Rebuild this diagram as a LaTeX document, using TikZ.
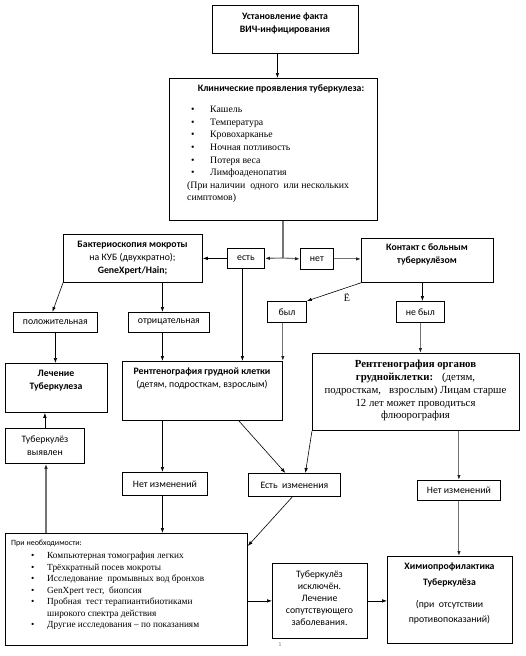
\documentclass[tikz,border=0pt]{standalone}
\usepackage{fontspec}
\setmainfont{Carlito}
\newfontfamily\tms{Liberation Serif}
\usetikzlibrary{arrows.meta,calc}
\begin{document}
\begin{tikzpicture}[x=1pt,y=-1pt,
  bx/.style={draw,line width=0.8pt,anchor=north west,inner sep=0pt},
  tx/.style={anchor=north,align=center,inner sep=0pt,font=\fontsize{9.8}{13}\selectfont},
  sm/.style={anchor=center,inner sep=0pt,font=\fontsize{9.8}{12}\selectfont},
  arr/.style={-{Latex[length=5pt,width=3.5pt]},line width=0.6pt},
  ln/.style={line width=0.6pt},
  garr/.style={-{Latex[length=5pt,width=3.5pt,color=black!85]},draw=black!55,line width=1.1pt},
  gln/.style={draw=black!55,line width=1.1pt},
]
\path[use as bounding box] (0,0) rectangle (525,656);

% boxes
\node[bx,minimum width=146pt,minimum height=48pt] (hiv) at (212,5) {};
\node[bx,minimum width=208pt,minimum height=142pt] (clin) at (169,78) {};
\node[bx,minimum width=139pt,minimum height=48pt] (bact) at (63,234) {};
\node[bx,minimum width=37pt,minimum height=20pt] (est) at (227,248) {};
\node[bx,minimum width=33pt,minimum height=21pt] (net) at (300,248) {};
\node[bx,minimum width=132pt,minimum height=44pt] (kont) at (361,238) {};
\node[bx,minimum width=84pt,minimum height=20pt] (pos) at (13,312) {};
\node[bx,minimum width=81pt,minimum height=20pt] (neg) at (128,312) {};
\node[bx,minimum width=39pt,minimum height=21pt] (byl) at (267,301) {};
\node[bx,minimum width=48pt,minimum height=21pt] (nebyl) at (396,301) {};
\node[bx,minimum width=102pt,minimum height=49pt] (lech) at (5,363) {};
\node[bx,minimum width=160pt,minimum height=59pt] (rgk) at (122,361) {};
\node[bx,minimum width=207pt,minimum height=77pt] (rorg) at (312,353) {};
\node[bx,minimum width=79pt,minimum height=35pt] (vyyav) at (5,428) {};
\node[bx,minimum width=85pt,minimum height=23pt] (netiz1) at (122,472) {};
\node[bx,minimum width=92pt,minimum height=23pt] (estiz) at (248,473) {};
\node[bx,minimum width=83pt,minimum height=20pt] (netiz2) at (417,480) {};
\node[bx,minimum width=242pt,minimum height=112pt] (pri) at (5,533) {};
\node[bx,minimum width=95pt,minimum height=75pt] (iskl) at (272,563) {};
\node[bx,minimum width=125pt,minimum height=87pt] (himio) at (387,556) {};

% texts
\node[tx] (hivt) at (285,13) {\textbf{Установление факта}\\\textbf{ВИЧ-инфицирования}};
\node[tx] (clint) at (281,85) {\textbf{Клинические проявления  туберкулеза:}};
\node[anchor=north west,align=left,inner sep=0pt,font=\tms\fontsize{9.8}{12.6}\selectfont] (clinl) at (187,106)
 {\hspace*{4pt}\makebox[19pt][l]{\textbullet}Кашель\\
  \hspace*{4pt}\makebox[19pt][l]{\textbullet}Температура\\
  \hspace*{4pt}\makebox[19pt][l]{\textbullet}Кровохарканье\\
  \hspace*{4pt}\makebox[19pt][l]{\textbullet}Ночная  потливость\\
  \hspace*{4pt}\makebox[19pt][l]{\textbullet}Потеря  веса\\
  \hspace*{4pt}\makebox[19pt][l]{\textbullet}Лимфоаденопатия\\
  (При наличии \ одного \ или нескольких\\
  симптомов)};
\node[tx] (bactt) at (132.5,241) {\textbf{Бактериоскопия  мокроты}\\на КУБ (двухкратно);\\\textbf{GeneXpert/Hain;}};
\node[sm] (estt) at (est.center) {есть};
\node[sm] (nett) at (net.center) {нет};
\node[tx] (kontt) at (427,244) {\textbf{Контакт с больным}\\\textbf{туберкулёзом}};
\node[sm] (post) at (pos.center) {положительная};
\node[sm] (negt) at (neg.center) {отрицательная};
\node[sm] (bylt) at (byl.center) {был};
\node[sm] (nebylt) at (nebyl.center) {не был};
\node[tx] (lecht) at (56,370) {\textbf{Лечение}\\\textbf{Туберкулеза}};
\node[tx] (rgkt) at (202,368) {\textbf{Рентгенография  грудной клетки}\\(детям, подросткам, взрослым)};
\node[tx,font=\tms\fontsize{10.8}{12.8}\selectfont] (rorgt) at (415.5,360)
 {\textbf{Рентгенография органов}\\\textbf{груднойклетки:} \ \ (детям,\\подросткам, \ \ взрослым) Лицам старше\\12 лет может проводиться\\флюорография};
\node[tx] (vyyavt) at (45,436) {Туберкулёз\\выявлен};
\node[sm] (netiz1t) at (netiz1.center) {Нет изменений};
\node[sm] (estizt) at (estiz.center) {Есть \ изменения};
\node[sm] (netiz2t) at (netiz2.center) {Нет изменений};
\node[anchor=west,inner sep=0pt,font=\fontsize{8}{10}\selectfont] (prit) at (11,543) {При необходимости:};
\node[anchor=north west,align=left,inner sep=0pt,font=\tms\fontsize{9.3}{11.5}\selectfont] (pril) at (28,552)
 {\hspace*{3pt}\makebox[16pt][l]{\textbullet}Компьютерная томография легких\\
  \hspace*{3pt}\makebox[16pt][l]{\textbullet}Трёхкратный посев мокроты\\
  \hspace*{3pt}\makebox[16pt][l]{\textbullet}Исследование \ промывных вод бронхов\\
  \hspace*{3pt}\makebox[16pt][l]{\textbullet}GenXpert тест, \ биопсия\\
  \hspace*{3pt}\makebox[16pt][l]{\textbullet}Пробная \ тест терапиантибиотиками\\
  \hspace*{19pt}широкого спектра действия\\
  \hspace*{3pt}\makebox[16pt][l]{\textbullet}Другие исследования – по показаниям};
\node[tx,font=\fontsize{9.8}{12}\selectfont] (isklt) at (319.5,571) {Туберкулёз\\исключён.\\Лечение\\сопутствующего\\заболевания.};
\node[tx] (himiot) at (449.5,563) {\textbf{Химиопрофилактика}\\[3pt]\textbf{Туберкулёза}\\[9pt](при \ отсутствии\\[2pt]противопоказаний)};
\node[font=\fontsize{6}{7}\selectfont,text=black!50,inner sep=0pt] (pg) at (280,645) {1};
\node[font=\tms\fontsize{10}{12}\selectfont,inner sep=0pt] (yo) at (347,297) {Ё};

% connectors
\draw[arr] ([xshift=-8pt]hiv.south) -- ([xshift=-8pt]hiv.south |- clin.north);
\coordinate (j) at (283,258);
\draw[gln] (clin.south -| j) -- (j);
\draw[garr] (j) -- (est.east);
\draw[garr] (j) -- (net.west);
\draw[garr] (net.east) -- (net.east -| kont.west);
\draw[arr] (est.west) -- (est.west -| bact.east);
\draw[arr] ([xshift=-3.5pt]est.south) -- ([xshift=-3.5pt]est.south |- rgk.north);
\draw[arr] (bact.south west) -- ([xshift=-3pt]pos.north);
\draw[arr] ([xshift=-6.5pt]neg.north |- bact.south) -- ([xshift=-6.5pt]neg.north);
\draw[arr] (pos.south) -- (pos.south |- lech.north);
\draw[arr] ([xshift=-6.5pt]neg.south) -- ([xshift=-6.5pt]neg.south |- rgk.north);
\draw[garr] (rgk.north east |- byl.south) -- (rgk.north east);
\draw[arr] (kont.south west) -- (byl.north east);
\draw[arr] ([xshift=2pt]nebyl.north |- kont.south) -- ([xshift=2pt]nebyl.north);
\draw[garr] (nebyl.south) -- (nebyl.south |- rorg.north);
\draw[arr] (vyyav.north) -- (vyyav.north |- lech.south);
\draw[garr] ([xshift=41pt]pri.north west) -- ([xshift=41pt]pri.north west |- vyyav.south);
\draw[arr] ([xshift=-2.5pt]netiz1.north |- rgk.south) -- ([xshift=-2.5pt]netiz1.north);
\draw[ln,-{Latex[length=5pt,width=3.5pt]}] ([xshift=-44pt]rgk.south east) -- ([xshift=-9pt]estiz.north);
\draw[arr] (rorg.south west) -- ([xshift=11pt]estiz.north);
\draw[garr] (netiz2.north |- rorg.south) -- (netiz2.north);
\draw[arr] ([xshift=-2.5pt]netiz1.south) -- ([xshift=-2.5pt]netiz1.south |- pri.north);
\draw[arr] ([xshift=-2pt]estiz.south) -- ([yshift=-13pt]pri.north east);
\draw[arr] (pri.east |- iskl.west) -- (iskl.west);
\draw[arr] (iskl.east) -- (iskl.east -| himio.west);
\draw[garr] (netiz2.south) -- (netiz2.south |- himio.north);
\end{tikzpicture}
\end{document}
